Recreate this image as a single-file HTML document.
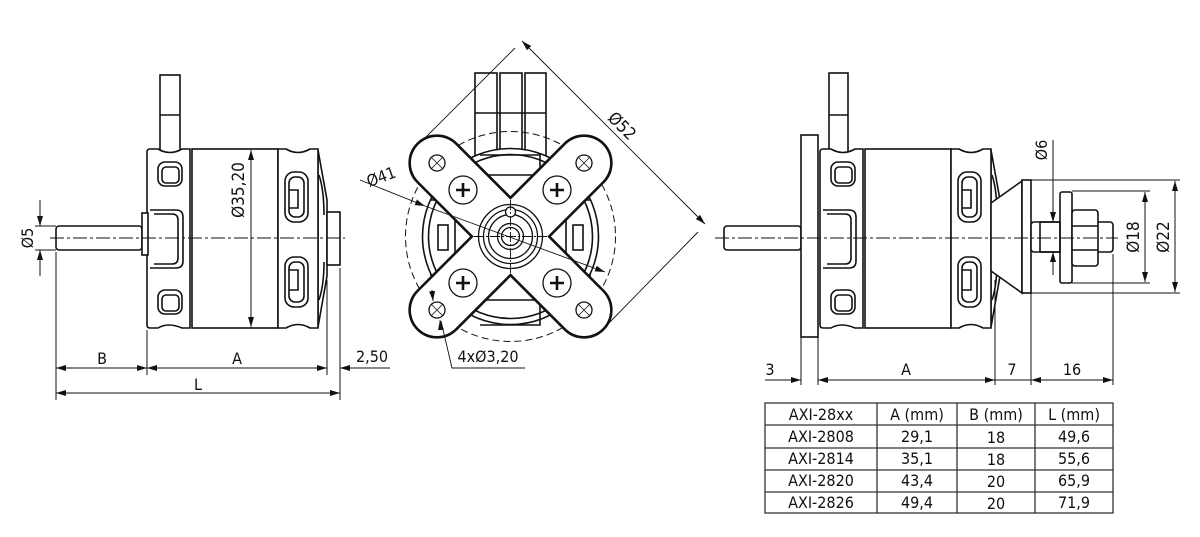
<!DOCTYPE html>
<html><head><meta charset="utf-8"><style>
html,body{margin:0;padding:0;background:#fff;}
svg{display:block}
text{font-family:"DejaVu Sans Condensed","Liberation Sans",sans-serif;fill:#111;}
</style></head><body>
<svg width="1200" height="537" viewBox="0 0 1200 537" xmlns="http://www.w3.org/2000/svg">
<defs>
<marker id="ar" viewBox="0 0 10 6" refX="10" refY="3" markerWidth="10" markerHeight="6" orient="auto-start-reverse" markerUnits="userSpaceOnUse"><path d="M0,0 L10,3 L0,6 z" fill="#111"/></marker>
<g id="motor" fill="#fff" stroke="#111" stroke-width="1.6">
  <path d="M318,150 L327,200 L327,276 L318,327 Z"/>
  <path d="M150,149 L158,149 Q170,156 182,149 L190,149 L190,328 L182,328 Q168,322 158,328 L150,328 Q147,328 147,325 L147,152 Q147,149 150,149 Z"/>
  <rect x="158" y="162" width="24" height="24" rx="7"/>
  <rect x="162" y="167" width="17" height="16" rx="4"/>
  <rect x="158" y="290" width="24" height="24" rx="7"/>
  <rect x="162" y="295" width="17" height="16" rx="4"/>
  <path d="M150,210 L176,210 Q183,210 183,217 L183,261 Q183,268 176,268 L150,268"/>
  <path d="M154,214 L172,214 Q178,214 178,220 L178,258 Q178,264 172,264 L154,264"/>
  <rect x="192" y="149" width="86" height="179"/>
  <path d="M278,149 L286,149 Q298,156 310,149 L318,149 L318,328 L310,328 Q298,321 286,328 L278,328 Z"/>
  <rect x="285" y="172" width="23" height="50" rx="9"/>
  <rect x="289" y="177" width="15" height="40" rx="6"/>
  <path d="M289,190 L298,190 L298,208 L289,208" fill="none"/>
  <rect x="285" y="257" width="23" height="50" rx="9"/>
  <rect x="289" y="262" width="15" height="40" rx="6"/>
  <path d="M289,270 L298,270 L298,290 L289,290" fill="none"/>
  <path d="M319,175 Q324,190 324,215" fill="none"/>
  <path d="M319,300 Q324,285 324,262" fill="none"/>
</g>
</defs>

<g stroke="#111" stroke-width="1.6" fill="#fff">
<rect x="160" y="75" width="20" height="80"/>
<line x1="160" y1="115" x2="180" y2="115"/>
<use href="#motor"/>
<rect x="327" y="212" width="13" height="53"/>
<rect x="56" y="226" width="86" height="24" rx="3"/>
<rect x="142" y="213" width="6" height="42"/>
</g>
<g stroke="#111" stroke-width="1" fill="none">
<line x1="50" y1="238" x2="345" y2="238" stroke-dasharray="14,3,3,3"/>
<line x1="35" y1="226" x2="56" y2="226"/><line x1="35" y1="250" x2="56" y2="250"/>
<line x1="40" y1="200" x2="40" y2="226" marker-end="url(#ar)"/>
<line x1="40" y1="276" x2="40" y2="250" marker-end="url(#ar)"/>
<line x1="251" y1="150" x2="251" y2="327" marker-start="url(#ar)" marker-end="url(#ar)"/>
<line x1="56" y1="252" x2="56" y2="400"/>
<line x1="147" y1="330" x2="147" y2="375"/>
<line x1="327" y1="280" x2="327" y2="375"/>
<line x1="340" y1="268" x2="340" y2="400"/>
<line x1="56" y1="368" x2="147" y2="368" marker-start="url(#ar)" marker-end="url(#ar)"/>
<line x1="147" y1="368" x2="327" y2="368" marker-start="url(#ar)" marker-end="url(#ar)"/>
<line x1="340" y1="368" x2="360" y2="368" marker-start="url(#ar)"/>
<line x1="340" y1="368" x2="390" y2="368"/>
<line x1="56" y1="393" x2="340" y2="393" marker-start="url(#ar)" marker-end="url(#ar)"/>
</g>
<text font-size="16" text-anchor="middle" transform="translate(33,238) rotate(-90)">Ø5</text>
<text font-size="17" text-anchor="middle" transform="translate(244,190) rotate(-90)">Ø35,20</text>
<text x="102" y="364" font-size="16" text-anchor="middle">B</text>
<text x="237" y="364" font-size="16" text-anchor="middle">A</text>
<text x="198" y="390" font-size="16" text-anchor="middle">L</text>
<text x="372" y="362" font-size="16" text-anchor="middle">2,50</text>

<!-- MIDDLE VIEW -->
<g stroke="#111" stroke-width="1.6" fill="#fff">
<rect x="475" y="73" width="22" height="110"/><rect x="500" y="73" width="22" height="110"/><rect x="525" y="73" width="21" height="110"/>
<line x1="475" y1="113" x2="546" y2="113"/>
<circle cx="510.5" cy="236.5" r="88"/>
<circle cx="510.5" cy="236.5" r="82" fill="none"/>
<path d="M430,200 L455,200 L455,275 L430,275" fill="none"/>
<path d="M591,200 L566,200 L566,275 L591,275" fill="none"/>
<rect x="438" y="225" width="10" height="25" fill="none"/><rect x="573" y="225" width="10" height="25" fill="none"/>
<path d="M480,300 L540,300 L540,325 L480,325" fill="none"/>
<path d="M480,155 L540,155 L540,175 L480,175" fill="none"/>
</g>
<circle cx="510.5" cy="236.5" r="105" fill="none" stroke="#111" stroke-width="1" stroke-dasharray="7,4"/>
<g transform="translate(510.5,236.5)">
  <g stroke="#111" stroke-width="3.2" fill="#fff">
    <rect x="-131" y="-27" width="262" height="54" rx="27" transform="rotate(45)"/>
    <rect x="-131" y="-27" width="262" height="54" rx="27" transform="rotate(-45)"/>
  </g>
  <g fill="#fff" stroke="none">
    <rect x="-130" y="-26" width="260" height="52" rx="26" transform="rotate(45)"/>
    <rect x="-130" y="-26" width="260" height="52" rx="26" transform="rotate(-45)"/>
  </g>
</g>
<g stroke="#111" stroke-width="1.3" fill="#fff">
  <circle cx="437" cy="163" r="8"/><circle cx="584" cy="163" r="8"/><circle cx="437" cy="310" r="8"/><circle cx="584" cy="310" r="8"/>
  <path d="M431,157l12,12M443,157l-12,12M578,157l12,12M590,157l-12,12M431,304l12,12M443,304l-12,12M578,304l12,12M590,304l-12,12" stroke-width="0.8"/>
  <circle cx="463" cy="190" r="14"/><circle cx="557" cy="190" r="14"/><circle cx="463" cy="283" r="14"/><circle cx="557" cy="283" r="14"/>
  <path d="M456,190h14M463,183v14M550,190h14M557,183v14M456,283h14M463,276v14M550,283h14M557,276v14" stroke-width="2.6"/>
  <circle cx="510.5" cy="236.5" r="32"/>
  <circle cx="510.5" cy="236.5" r="27"/>
  <circle cx="510.5" cy="236.5" r="22"/>
  <circle cx="510.5" cy="236.5" r="13"/>
  <circle cx="510.5" cy="236.5" r="9"/>
  <circle cx="510.5" cy="212" r="5"/>
</g>
<g stroke="#111" stroke-width="0.9" fill="none">
  <line x1="510.5" y1="200" x2="510.5" y2="273" stroke-dasharray="10,2,2,2"/>
  <line x1="474" y1="236.5" x2="547" y2="236.5" stroke-dasharray="10,2,2,2"/>
  <line x1="422" y1="141" x2="515" y2="48"/>
  <line x1="605" y1="327" x2="698" y2="232"/>
  <line x1="522" y1="41" x2="705" y2="224" marker-start="url(#ar)" marker-end="url(#ar)"/>
  <line x1="360" y1="180" x2="425" y2="206" marker-end="url(#ar)"/>
  <line x1="425" y1="206" x2="605" y2="272" marker-end="url(#ar)"/>
  <line x1="432" y1="290" x2="433" y2="301" marker-end="url(#ar)"/>
  <polyline points="525,368 452,368 441,321"/>
  <line x1="441" y1="330" x2="440" y2="320" marker-end="url(#ar)"/>
</g>
<text font-size="17" transform="translate(618,130) rotate(45)" text-anchor="middle">Ø52</text>
<text font-size="16" transform="translate(383,182) rotate(-20)" text-anchor="middle">Ø41</text>
<text x="488" y="362" font-size="16" text-anchor="middle">4xØ3,20</text>

<!-- RIGHT VIEW -->
<g stroke="#111" stroke-width="1.6" fill="#fff">
<rect x="829" y="73" width="19" height="80"/>
<line x1="829" y1="115" x2="848" y2="115"/>
<g transform="translate(673,0)"><use href="#motor"/></g>
<rect x="724" y="226" width="77" height="24" rx="3"/>
<rect x="801" y="135" width="17" height="202"/>
<path d="M991,203 L1022,181 L1022,293 L991,271 Z"/>
<rect x="1022" y="180" width="9" height="113"/>
<rect x="1031" y="222" width="82" height="30" rx="3"/>
<rect x="1060" y="192" width="12" height="91" rx="2"/>
<rect x="1072" y="210" width="26" height="56" rx="3"/>
<line x1="1072" y1="226" x2="1098" y2="226"/><line x1="1072" y1="250" x2="1098" y2="250"/>
<rect x="1040" y="222" width="20" height="30" fill="none"/>
</g>
<g stroke="#111" stroke-width="1" fill="none">
<line x1="715" y1="238" x2="1118" y2="238" stroke-dasharray="14,3,3,3"/>
<line x1="1053" y1="140" x2="1053" y2="222" marker-end="url(#ar)"/>
<line x1="1053" y1="268" x2="1053" y2="252" marker-end="url(#ar)"/>
<line x1="1053" y1="252" x2="1053" y2="275"/>
<line x1="1072" y1="191" x2="1150" y2="191"/><line x1="1072" y1="283" x2="1150" y2="283"/>
<line x1="1031" y1="180" x2="1180" y2="180"/><line x1="1031" y1="293" x2="1180" y2="293"/>
<line x1="1145" y1="192" x2="1145" y2="282" marker-start="url(#ar)" marker-end="url(#ar)"/>
<line x1="1175" y1="181" x2="1175" y2="292" marker-start="url(#ar)" marker-end="url(#ar)"/>
<line x1="801" y1="337" x2="801" y2="385"/>
<line x1="818" y1="337" x2="818" y2="385"/>
<line x1="995" y1="280" x2="995" y2="385"/>
<line x1="1031" y1="293" x2="1031" y2="385"/>
<line x1="1113" y1="254" x2="1113" y2="385"/>
<line x1="765" y1="380" x2="801" y2="380" marker-end="url(#ar)"/>
<line x1="818" y1="380" x2="995" y2="380" marker-start="url(#ar)" marker-end="url(#ar)"/>
<line x1="1031" y1="380" x2="1113" y2="380" marker-start="url(#ar)" marker-end="url(#ar)"/>
<line x1="995" y1="380" x2="1031" y2="380"/>
</g>
<text font-size="16" transform="translate(1047,150) rotate(-90)" text-anchor="middle">Ø6</text>
<text font-size="17" transform="translate(1139,237) rotate(-90)" text-anchor="middle">Ø18</text>
<text font-size="17" transform="translate(1169,237) rotate(-90)" text-anchor="middle">Ø22</text>
<text x="770" y="375" font-size="16" text-anchor="middle">3</text>
<text x="906" y="375" font-size="16" text-anchor="middle">A</text>
<text x="1012" y="375" font-size="16" text-anchor="middle">7</text>
<text x="1072" y="375" font-size="16" text-anchor="middle">16</text>

<g stroke="#333" stroke-width="1.3" fill="none">
<rect x="765" y="403" width="348" height="110"/>
<line x1="765" y1="425" x2="1113" y2="425"/><line x1="765" y1="448" x2="1113" y2="448"/>
<line x1="765" y1="470" x2="1113" y2="470"/><line x1="765" y1="492" x2="1113" y2="492"/>
<line x1="877" y1="403" x2="877" y2="513"/><line x1="957" y1="403" x2="957" y2="513"/><line x1="1035" y1="403" x2="1035" y2="513"/>
</g>
<g font-size="16" text-anchor="middle">
<text x="821" y="420">AXI-28xx</text><text x="917" y="420">A (mm)</text><text x="996" y="420">B (mm)</text><text x="1074" y="420">L (mm)</text>
<text x="821" y="442">AXI-2808</text><text x="917" y="442">29,1</text><text x="996" y="443">18</text><text x="1074" y="442">49,6</text>
<text x="821" y="464">AXI-2814</text><text x="917" y="464">35,1</text><text x="996" y="465">18</text><text x="1074" y="464">55,6</text>
<text x="821" y="486">AXI-2820</text><text x="917" y="486">43,4</text><text x="996" y="487">20</text><text x="1074" y="486">65,9</text>
<text x="821" y="508">AXI-2826</text><text x="917" y="508">49,4</text><text x="996" y="509">20</text><text x="1074" y="508">71,9</text>
</g>
</svg>
</body></html>
